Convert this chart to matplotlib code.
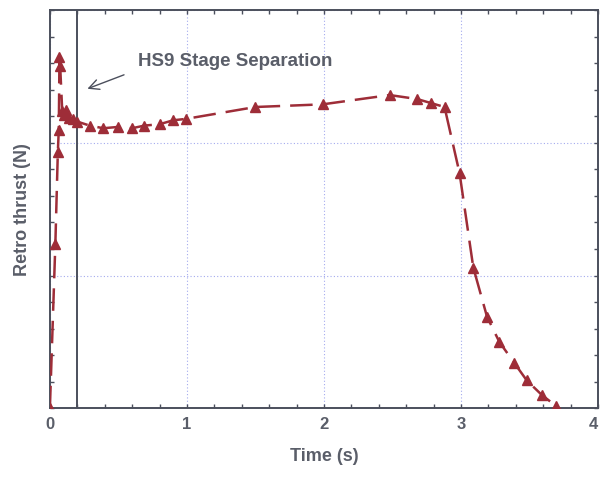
import matplotlib
matplotlib.use("Agg")
import matplotlib.pyplot as plt
from matplotlib.ticker import MultipleLocator

# time (s) and retro thrust (arbitrary units, no y labels on the original)
t = [0.0, 0.04, 0.058, 0.065, 0.07, 0.075, 0.09, 0.10, 0.12, 0.14, 0.17, 0.20,
     0.29, 0.39, 0.5, 0.6, 0.69, 0.8, 0.9, 0.99,
     1.5, 1.99, 2.48, 2.68, 2.78, 2.88, 2.99,
     3.09, 3.19, 3.28, 3.39, 3.48, 3.59, 3.69]
thrust = [0.0, 1.24, 1.93, 2.10, 2.65, 2.58, 2.24, 2.21, 2.25, 2.19, 2.18, 2.16,
          2.13, 2.11, 2.12, 2.11, 2.13, 2.14, 2.17, 2.18,
          2.27, 2.29, 2.36, 2.33, 2.30, 2.27, 1.77,
          1.06, 0.69, 0.50, 0.34, 0.21, 0.10, 0.02]
xticks = [0, 1, 2, 3, 4]
sep_time = 0.2

red = "#9e2d38"
axcol = "#4b4f5c"
txtcol = "#5a5e69"

fig = plt.figure(figsize=(6.01, 4.82), dpi=100)
ax = fig.add_axes([0.083, 0.153, 0.912, 0.826])

ax.plot(t, thrust, color=red, lw=1.8, dashes=(9, 4), marker="^", ms=7.5,
        markerfacecolor=red, markeredgecolor=red, zorder=3)
ax.axvline(sep_time, color=axcol, lw=1.4, zorder=2)

ax.set_xlim(0, 4)
ax.set_ylim(0, 3)
ax.set_xticks(xticks)
ax.set_xticklabels([str(v) for v in xticks], fontweight="bold",
                   family="Liberation Sans")
ax.xaxis.set_minor_locator(MultipleLocator(0.2))
ax.yaxis.set_major_locator(MultipleLocator(1))
ax.yaxis.set_minor_locator(MultipleLocator(0.2))
ax.tick_params(which="both", direction="in", top=True, right=True, color=axcol,
               length=3, width=1)
ax.tick_params(axis="y", labelleft=False)
ax.tick_params(axis="x", labelsize=12, labelcolor=txtcol, pad=6)
# last label sits on the figure edge
ax.get_xticklabels()[-1].set_horizontalalignment("right")
for s in ax.spines.values():
    s.set_color(axcol)
    s.set_linewidth(1.4)

ax.grid(True, which="major", color="#a4aaee", ls=(0, (1, 2)), lw=0.8)
ax.set_axisbelow(True)

ax.set_xlabel("Time (s)", fontsize=13, fontweight="bold", color=txtcol,
              family="Liberation Sans", labelpad=12)
ax.set_ylabel("Retro thrust (N)", fontsize=13, fontweight="bold", color=txtcol,
              family="Liberation Sans", labelpad=10)

ax.text(0.64, 2.61, "HS9 Stage Separation", fontsize=13.5, fontweight="bold",
        color=txtcol, family="Liberation Sans", va="center", ha="left")
ax.annotate("", xy=(0.255, 2.40), xytext=(0.56, 2.52),
            arrowprops=dict(arrowstyle="->", color=axcol, lw=1, mutation_scale=18))

fig.savefig("out.png", dpi=100)
